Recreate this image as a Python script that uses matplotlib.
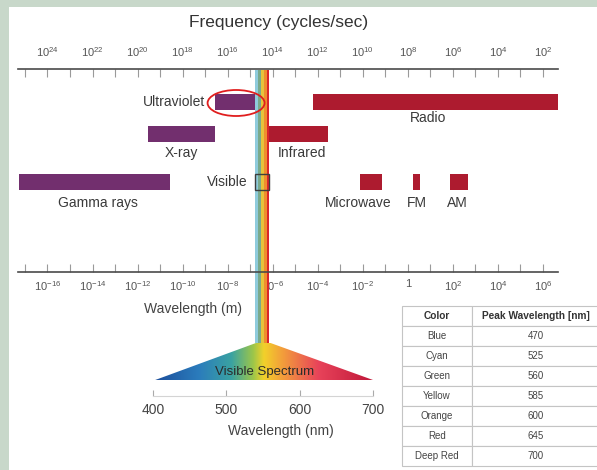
import numpy as np
import matplotlib
matplotlib.use('Agg')
import matplotlib.pyplot as plt
from matplotlib.patches import Rectangle, Ellipse, Polygon
from matplotlib.colors import LinearSegmentedColormap
from matplotlib.ticker import FixedLocator, NullFormatter

plt.rcParams['font.family'] = ['Liberation Sans', 'DejaVu Sans']
plt.rcParams['mathtext.fontset'] = 'custom'
plt.rcParams['mathtext.rm'] = 'Liberation Sans'
plt.rcParams['mathtext.it'] = 'Liberation Sans:italic'
plt.rcParams['mathtext.bf'] = 'Liberation Sans:bold'

# spectrum bands, wavelength range in metres
band_names = ['Ultraviolet', 'Radio', 'X-ray', 'Infrared', 'Gamma rays',
              'Visible', 'Microwave', 'FM', 'AM']
band_lo = [2.8e-9, 6.2e-5, 3.0e-12, 7.2e-7, 5.5e-18, 1.6e-7, 7.6e-3, 1.7, 75]
band_hi = [2.0e-7, 4.7e6, 2.8e-9, 2.8e-4, 2.8e-11, 7.2e-7, 7.1e-2, 3.5, 470]
band_row = [0, 0, 1, 1, 2, 2, 2, 2, 2]
band_kind = ['ion', 'rad', 'ion', 'rad', 'ion', 'vis', 'rad', 'rad', 'rad']

# axis labels (powers of ten)
wl_exp = [-16, -14, -12, -10, -8, -6, -4, -2, 0, 2, 4, 6]
freq_exp = [24, 22, 20, 18, 16, 14, 12, 10, 8, 6, 4, 2]

# visible spectrum
stripe_colors = ['#8fcbdc', '#7aa98c', '#e7c23c', '#ef8f2e', '#d8262b']
spectrum_nm = [403, 700]
nm_ticks = [400, 500, 600, 700]
grad_pos = [0.0, 0.2, 0.35, 0.45, 0.5, 0.58, 0.75, 1.0]
grad_col = ['#1c4f9c', '#2b7cbc', '#3aa2a2', '#9cc64a', '#f2d12a',
            '#f3a13a', '#e8435a', '#c0183a']

# peak wavelength table
table_colors = ['Blue', 'Cyan', 'Green', 'Yellow', 'Orange', 'Red', 'Deep Red']
table_peaks = [470, 525, 560, 585, 600, 645, 700]

W, H = 597, 470
fig = plt.figure(figsize=(W / 100, H / 100), dpi=100)
fig.patch.set_facecolor('#c8d8ca')
fig.add_artist(Rectangle((9 / W, 0), 1, 1 - 7 / H, transform=fig.transFigure,
                         facecolor='white', edgecolor='none', zorder=-10))


def box(x0, y0, x1, y1):
    return [x0 / W, 1 - y1 / H, (x1 - x0) / W, (y1 - y0) / H]


fig.text(279 / W, 1 - 23 / H, 'Frequency (cycles/sec)', ha='center', va='center',
         fontsize=12.5, color='#333333')

# main spectrum axes, y in pixel rows
ax = fig.add_axes(box(18, 69, 558, 272))
ax.set_facecolor('none')
ax.set_xscale('log')
ax.set_xlim(10 ** -17.31, 10 ** 6.67)
ax.set_ylim(272, 69)
ax.set_yticks([])
for s in ['left', 'right', 'top']:
    ax.spines[s].set_visible(False)
ax.spines['bottom'].set_color('#4a4a4a')
ax.spines['bottom'].set_linewidth(1.2)


def pow_label(e):
    return '1' if e == 0 else '$10^{%d}$' % e


ax.set_xticks([10.0 ** e for e in wl_exp], labels=[pow_label(e) for e in wl_exp])
ax.xaxis.set_minor_locator(FixedLocator([10.0 ** e for e in range(-17, 6, 2)]))
ax.xaxis.set_minor_formatter(NullFormatter())
ax.tick_params(axis='x', which='both', direction='in', length=5.5, width=0.8,
               color='#9a9a9a', labelsize=8, labelcolor='#555555', pad=5)

# frequency scale on top
secax = ax.secondary_xaxis('top', functions=(lambda w: 1e8 / w, lambda f: 1e8 / f))
secax.set_xticks([10.0 ** e for e in freq_exp], labels=[pow_label(e) for e in freq_exp])
secax.xaxis.set_minor_locator(FixedLocator([10.0 ** e for e in range(25, 2, -2)]))
secax.xaxis.set_minor_formatter(NullFormatter())
secax.tick_params(axis='x', which='both', direction='in', length=5.5, width=0.8,
                  color='#9a9a9a', labelsize=8, labelcolor='#555555', pad=7)
secax.spines['top'].set_color('#4a4a4a')
secax.spines['top'].set_linewidth(1.2)

fig.text(193 / W, 1 - 309 / H, 'Wavelength (m)', fontsize=10, color='#444444',
         ha='center', va='center')

row_y = [102, 134, 182]
bar_h = 16
kind_color = {'ion': '#722f6e', 'rad': '#ad1b2f'}
label_left = {'Ultraviolet': 10, 'Visible': 7}
label_nudge = {'Radio': (-7, -3), 'Microwave': (-13, 2), 'Gamma rays': (3, 2),
               'FM': (0, 2), 'AM': (-2, 2), 'Infrared': (3, 0)}

vis_lo = vis_hi = None
for name, lo, hi, r, kind in zip(band_names, band_lo, band_hi, band_row, band_kind):
    y = row_y[r]
    if kind == 'vis':
        vis_lo, vis_hi = lo, hi
        ax.barh(y, hi - lo, left=lo, height=bar_h, fill=False,
                edgecolor='#3d3d3d', linewidth=1, zorder=3)
    else:
        ax.barh(y, hi - lo, left=lo, height=bar_h, color=kind_color[kind],
                edgecolor='none', zorder=2)
    if name in label_left:
        ax.annotate(name, xy=(lo, y), xytext=(-label_left[name] * 0.72, 0),
                    textcoords='offset points', ha='right', va='center',
                    fontsize=10, color='#3a3a3a')
    else:
        dx, dy = label_nudge.get(name, (0, 0))
        ax.annotate(name, xy=(np.sqrt(lo * hi), y + bar_h / 2 + 4 + dy),
                    xytext=(dx * 0.72, 0), textcoords='offset points',
                    ha='center', va='top', fontsize=10, color='#3a3a3a')

# vertical rainbow stripe for the visible band
edges = np.geomspace(vis_lo, vis_hi, len(stripe_colors) + 1)
for c, a, b in zip(stripe_colors, edges[:-1], edges[1:]):
    ax.add_patch(Rectangle((a, 70), b - a, 343 - 70, facecolor=c, edgecolor='none',
                           clip_on=False, zorder=2))

# red ellipse around ultraviolet band
uv = band_names.index('Ultraviolet')
cx, cy = fig.transFigure.inverted().transform(
    ax.transData.transform((np.sqrt(band_lo[uv] * band_hi[uv]), row_y[0] + 1)))
fig.add_artist(Ellipse((cx, cy), 57 / W, 26 / H, transform=fig.transFigure,
                       fill=False, edgecolor='#e01e1e', linewidth=1.3, zorder=5))

# visible spectrum fan and nm axis
sp = fig.add_axes(box(153, 330, 373, 396))
sp.set_facecolor('none')
cmap = LinearSegmentedColormap.from_list('vis', list(zip(grad_pos, grad_col)))
grad = np.linspace(0, 1, 256)[None, :]
img = sp.imshow(grad, extent=(spectrum_nm[0], spectrum_nm[1], 380, 343),
                aspect='auto', cmap=cmap, zorder=1)
inv = sp.transData.inverted()
tl = inv.transform(ax.transData.transform((vis_lo, 0)))[0]
tr = inv.transform(ax.transData.transform((vis_hi, 0)))[0]
poly = Polygon([(spectrum_nm[0], 380), (tl, 343), (tr, 343), (spectrum_nm[1], 380)],
               closed=True, facecolor='none', edgecolor='none')
sp.add_patch(poly)
img.set_clip_path(poly)
sp.text((spectrum_nm[0] + spectrum_nm[1]) / 2, 372, 'Visible Spectrum', ha='center',
        va='center', fontsize=9.5, color='#2b2b2b', zorder=3)
sp.set_xlim(400, 700)
sp.set_ylim(396, 330)
sp.set_yticks([])
for s in ['left', 'right', 'top']:
    sp.spines[s].set_visible(False)
sp.spines['bottom'].set_color('#d4d4d4')
sp.spines['bottom'].set_linewidth(0.8)
sp.set_xticks(nm_ticks)
sp.tick_params(axis='x', direction='in', length=4.5, width=0.8, color='#aaaaaa',
               labelsize=10, labelcolor='#444444', pad=5)
sp.set_xlabel('Wavelength (nm)', fontsize=10, color='#444444', labelpad=5)
sp.xaxis.set_label_coords(0.58, -0.42)

# table of peak wavelengths
tx = fig.add_axes(box(402, 306, 600, 466))
tx.axis('off')
cells = [[c, str(p)] for c, p in zip(table_colors, table_peaks)]
tab = tx.table(cellText=cells, colLabels=['Color', 'Peak Wavelength [nm]'],
               cellLoc='center', bbox=[0, 0, 1, 1], colWidths=[70 / 198, 128 / 198])
tab.auto_set_font_size(False)
for (r, c), cell in tab.get_celld().items():
    cell.set_edgecolor('#c4c4c4')
    cell.set_linewidth(0.8)
    cell.get_text().set_fontsize(7)
    cell.get_text().set_color('#444444')
    if r == 0:
        cell.get_text().set_fontweight('bold')
        cell.get_text().set_fontsize(7.3)
        cell.get_text().set_color('#333333')

fig.savefig('out.png', dpi=100, facecolor=fig.get_facecolor())
